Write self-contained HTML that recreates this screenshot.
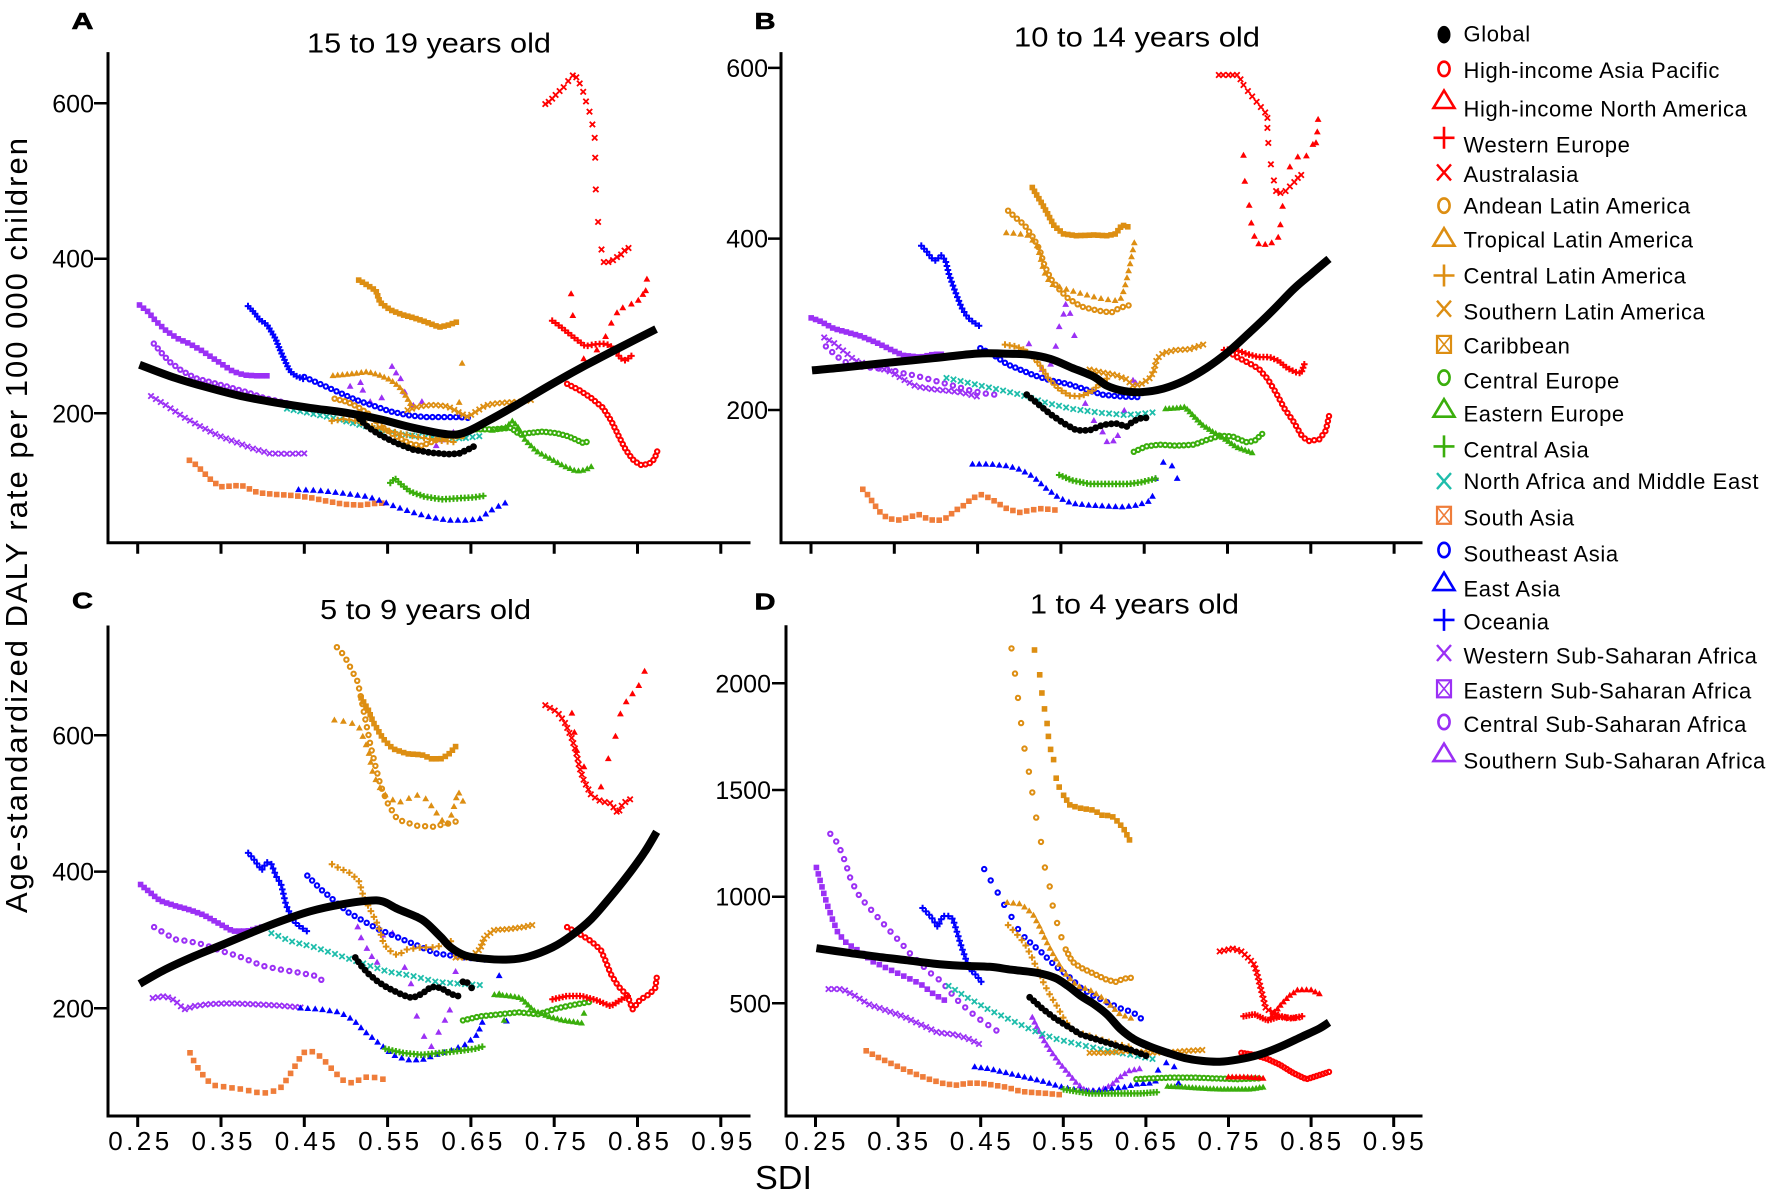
<!DOCTYPE html>
<html><head><meta charset="utf-8"><style>
html,body{margin:0;padding:0;background:#fff;}
svg{display:block;}
text{font-family:"Liberation Sans",Arial,sans-serif;fill:#000;}
</style></head><body>
<svg id="c" width="1772" height="1196" viewBox="0 0 1772 1196" xmlns="http://www.w3.org/2000/svg">
<rect width="1772" height="1196" fill="#fff"/>
<g stroke="#000" stroke-width="3" fill="none" stroke-linecap="square">
<path d="M108 53.6V542.7H749"/>
<path d="M781 53.6V542.7H1421"/>
<path d="M108 627V1116H749"/>
<path d="M786 626.7V1116H1421"/>
</g>
<g stroke="#000" stroke-width="3" fill="none">
<path d="M137.7 542.7v11M221 542.7v11M304.3 542.7v11M387.6 542.7v11M470.9 542.7v11M554.2 542.7v11M637.5 542.7v11M720.8 542.7v11"/>
<path d="M811 542.7v11M894.3 542.7v11M977.6 542.7v11M1060.9 542.7v11M1144.2 542.7v11M1227.5 542.7v11M1310.8 542.7v11M1394.1 542.7v11"/>
<path d="M137.7 1116v11M221 1116v11M304.3 1116v11M387.6 1116v11M470.9 1116v11M554.2 1116v11M637.5 1116v11M720.8 1116v11"/>
<path d="M815.5 1116v11M898.1 1116v11M980.7 1116v11M1063.3 1116v11M1145.9 1116v11M1228.5 1116v11M1311.1 1116v11M1393.7 1116v11"/>
</g>
<g stroke="#000" stroke-width="2.5" fill="none">
<path d="M94 103.3H108M94 258.7H108M94 413.3H108"/>
<path d="M768 67.9H781M768 238.6H781M768 410H781"/>
<path d="M94 735.3H108M94 871.6H108M94 1008.3H108"/>
<path d="M772 683.3H786M772 790H786M772 896.7H786M772 1003.3H786"/>
</g>
<g font-size="25" text-anchor="end">
<text x="94" y="112.3">600</text><text x="94" y="267.7">400</text><text x="94" y="422.3">200</text>
<text x="768" y="76.9">600</text><text x="768" y="247.6">400</text><text x="768" y="419">200</text>
<text x="94" y="744.3">600</text><text x="94" y="880.6">400</text><text x="94" y="1017.3">200</text>
<text x="771" y="692.3">2000</text><text x="771" y="799">1500</text><text x="771" y="905.7">1000</text><text x="771" y="1012.3">500</text>
</g>
<g font-size="26" text-anchor="middle">
<text x="138.7" y="1150" textLength="61" lengthAdjust="spacing">0.25</text>
<text x="222" y="1150" textLength="61" lengthAdjust="spacing">0.35</text>
<text x="305.3" y="1150" textLength="61" lengthAdjust="spacing">0.45</text>
<text x="388.6" y="1150" textLength="61" lengthAdjust="spacing">0.55</text>
<text x="471.9" y="1150" textLength="61" lengthAdjust="spacing">0.65</text>
<text x="555.2" y="1150" textLength="61" lengthAdjust="spacing">0.75</text>
<text x="638.5" y="1150" textLength="61" lengthAdjust="spacing">0.85</text>
<text x="721.8" y="1150" textLength="61" lengthAdjust="spacing">0.95</text>
<text x="815" y="1150" textLength="61" lengthAdjust="spacing">0.25</text>
<text x="897.6" y="1150" textLength="61" lengthAdjust="spacing">0.35</text>
<text x="980.2" y="1150" textLength="61" lengthAdjust="spacing">0.45</text>
<text x="1062.8" y="1150" textLength="61" lengthAdjust="spacing">0.55</text>
<text x="1145.4" y="1150" textLength="61" lengthAdjust="spacing">0.65</text>
<text x="1228" y="1150" textLength="61" lengthAdjust="spacing">0.75</text>
<text x="1310.6" y="1150" textLength="61" lengthAdjust="spacing">0.85</text>
<text x="1393.2" y="1150" textLength="61" lengthAdjust="spacing">0.95</text>
</g>
<text x="755" y="1189" font-size="33" textLength="57" lengthAdjust="spacingAndGlyphs">SDI</text>
<text transform="translate(27,525.5) rotate(-90)" text-anchor="middle" font-size="31" textLength="775" lengthAdjust="spacing">Age-standardized DALY rate per 100 000 children</text>
<g font-size="28">
<text x="307" y="52.4" textLength="244" lengthAdjust="spacingAndGlyphs">15 to 19 years old</text>
<text x="1014" y="46.4" textLength="246" lengthAdjust="spacingAndGlyphs">10 to 14 years old</text>
<text x="320" y="618.8" textLength="211" lengthAdjust="spacingAndGlyphs">5 to 9 years old</text>
<text x="1030" y="613.5" textLength="209" lengthAdjust="spacingAndGlyphs">1 to 4 years old</text>
</g>
<g font-size="23" font-weight="bold" stroke="#000" stroke-width="0.6">
<text x="71.5" y="29" textLength="22" lengthAdjust="spacingAndGlyphs">A</text>
<text x="754.5" y="29" textLength="21" lengthAdjust="spacingAndGlyphs">B</text>
<text x="72" y="608.3" textLength="21" lengthAdjust="spacingAndGlyphs">C</text>
<text x="754.5" y="609.5" textLength="21" lengthAdjust="spacingAndGlyphs">D</text>
</g>
<g id="data"></g>
<g id="leg"></g>
</svg>
<script>
(function(){
const T={A:[0,0,1.7422,2.6133],B:[760,0,2.3059,2.8],C:[0,560,2.0632,2.4654],D:[760,560,2.3059,2.4654]};
const COL={r:'#ff0000',o:'#dd8e12',g:'#3aae0c',t:'#1ebdab',s:'#ef7d3a',b:'#0000ff',p:'#9b30f5',k:'#000000'};
function tr(P,pts){const t=T[P];return pts.map(q=>[t[0]+q[0]/t[2],t[1]+q[1]/t[3]]);}
function samp(pts,n){if(n<=0)return pts;const L=[0];for(let i=1;i<pts.length;i++){L.push(L[i-1]+Math.hypot(pts[i][0]-pts[i-1][0],pts[i][1]-pts[i-1][1]));}
const tot=L[L.length-1];const out=[];let j=0;for(let k=0;k<n;k++){const s=tot*k/(n-1);while(j<pts.length-2&&L[j+1]<s)j++;const seg=L[j+1]-L[j];const f=seg?(s-L[j])/seg:0;out.push([pts[j][0]+f*(pts[j+1][0]-pts[j][0]),pts[j][1]+f*(pts[j+1][1]-pts[j][1])]);}return out;}
function mk(type,c,x,y){
 const X=x.toFixed(1),Y=y.toFixed(1);
 switch(type){
 case 'o':return `<circle cx="${X}" cy="${Y}" r="2.2" fill="none" stroke="${c}" stroke-width="2"/>`;
 case 't':return `<path d="M${X},${(y-3.7).toFixed(1)}l3.4,6h-6.8z" fill="${c}"/>`;
 case 'p':return `<path d="M${(x-3.3).toFixed(1)},${Y}h6.6M${X},${(y-3.3).toFixed(1)}v6.6" stroke="${c}" stroke-width="2" fill="none"/>`;
 case 'x':return `<path d="M${(x-2.7).toFixed(1)},${(y-2.7).toFixed(1)}l5.4,5.4m0,-5.4l-5.4,5.4" stroke="${c}" stroke-width="1.8" fill="none"/>`;
 case 's':return `<rect x="${(x-2.8).toFixed(1)}" y="${(y-2.8).toFixed(1)}" width="5.6" height="5.6" fill="${c}"/>`;
 case 'g':return `<circle cx="${X}" cy="${Y}" r="3.4" fill="#000"/>`;
 }return '';}
function smooth(p){let d=`M${p[0][0].toFixed(1)},${p[0][1].toFixed(1)}`;for(let i=0;i<p.length-1;i++){const p0=p[i-1]||p[i],p1=p[i],p2=p[i+1],p3=p[i+2]||p2;const c1=[p1[0]+(p2[0]-p0[0])/6,p1[1]+(p2[1]-p0[1])/6],c2=[p2[0]-(p3[0]-p1[0])/6,p2[1]-(p3[1]-p1[1])/6];d+=`C${c1[0].toFixed(1)},${c1[1].toFixed(1)} ${c2[0].toFixed(1)},${c2[1].toFixed(1)} ${p2[0].toFixed(1)},${p2[1].toFixed(1)}`;}return d;}

const S=[
['A','s','p',[[243,797],[258,815],[272,840],[290,865],[310,885],[330,898],[350,915],[370,935],[390,955],[405,970],[425,980],[445,982],[465,982]],30],
['A','o','p',[[268,898],[280,920],[295,945],[315,967],[340,988],[370,1000],[400,1012],[430,1025],[460,1040],[490,1050],[510,1058]],26],
['A','x','p',[[263,1035],[290,1060],[320,1090],[350,1115],[380,1138],[410,1155],[440,1172],[470,1185],[500,1186],[530,1185]],30],
['A','t','p',[[610,1010],[628,1000],[632,1020],[645,1050],[665,1040],[683,958],[690,975],[698,990],[705,1025],[720,1060],[735,1050],[760,1165],[770,1150],[790,1130],[800,1090]],0],
['A','s','s',[[330,1203],[342,1215],[355,1235],[370,1258],[385,1272],[405,1270],[420,1268],[435,1278],[450,1288],[480,1292],[510,1295],[540,1300],[570,1310],[600,1318],[630,1320],[650,1316],[665,1315]],30],
['A','p','b',[[432,800],[442,815],[452,835],[465,848],[472,865],[480,885],[488,915],[497,945],[505,970],[515,982],[528,990]],28],
['A','o','b',[[530,985],[560,1005],[590,1025],[620,1045],[650,1060],[680,1075],[710,1085],[740,1090],[770,1090],[800,1090],[815,1092]],30],
['A','t','b',[[520,1280],[560,1283],[600,1290],[640,1298],[665,1310],[690,1325],[720,1340],[750,1352],[780,1360],[810,1360],[835,1357],[845,1345],[860,1330],[880,1315]],30],
['A','x','t',[[500,1068],[540,1080],[580,1092],[620,1108],[660,1122],[700,1135],[740,1142],[780,1146],[810,1145],[835,1140]],30],
['A','s','o',[[625,732],[640,745],[655,760],[662,790],[680,810],[700,822],[720,830],[745,843],[765,855],[780,850],[795,842]],28],
['A','t','o',[[580,982],[610,978],[640,972],[660,980],[680,993],[695,1010],[705,1030],[715,1055]],20],
['A','t','o',[[805,950],[800,1052]],0],
['A','o','o',[[583,1042],[605,1050],[625,1065],[645,1085],[665,1115],[690,1140],[715,1160],[735,1165],[760,1150],[785,1140],[805,1140]],28],
['A','p','o',[[578,1100],[600,1095],[620,1100],[640,1110],[660,1120],[690,1130],[720,1140],[760,1150],[790,1155]],22],
['A','x','o',[[710,1072],[730,1062],[755,1058],[780,1062],[800,1078],[815,1090],[830,1075],[845,1060],[860,1055],[880,1052],[905,1050],[925,1045]],28],
['A','p','g',[[680,1262],[688,1250],[698,1265],[715,1285],[740,1298],[770,1305],[800,1302],[825,1300],[842,1296]],28],
['A','o','g',[[830,1122],[860,1122],[890,1118],[905,1135],[920,1132],[945,1128],[970,1132],[990,1140],[1005,1150],[1015,1157],[1022,1155]],28],
['A','t','g',[[858,1125],[880,1118],[893,1100],[903,1118],[915,1150],[935,1180],[960,1200],[985,1220],[1005,1232],[1020,1228],[1030,1220]],28],
['A','o','r',[[988,1003],[1010,1020],[1030,1040],[1050,1065],[1065,1100],[1078,1140],[1090,1175],[1102,1200],[1115,1215],[1130,1213],[1140,1200],[1145,1180]],30],
['A','p','r',[[962,838],[975,852],[990,870],[1005,888],[1020,905],[1035,900],[1050,898],[1062,902],[1072,915],[1080,935],[1090,942],[1100,930]],25],
['A','t','r',[[995,768],[998,825],[1017,938],[1040,915],[1055,880],[1065,845],[1075,818],[1085,805],[1100,795],[1112,785],[1120,770],[1125,760],[1127,730]],0],
['A','x','r',[[950,272],[956,266],[962,258],[968,248],[975,238],[982,228],[990,212],[998,197],[1004,202],[1010,218],[1016,240],[1021,265],[1027,292],[1032,325],[1036,360],[1037,412],[1038,495],[1042,580],[1048,652],[1052,685],[1060,685],[1068,680],[1075,672],[1082,665],[1088,655],[1095,648]],0],
['A','g','k',[[620,1085],[640,1115],[660,1135],[690,1158],[720,1175],[750,1183],[780,1187],[800,1185],[815,1175],[825,1167]],26],
['B','s','p',[[118,890],[140,900],[170,920],[200,930],[230,940],[270,960],[300,978],[330,995],[370,1000],[400,992],[418,992]],30],
['B','x','p',[[148,945],[170,960],[195,985],[220,1010],[260,1025],[300,1040],[330,1062],[360,1082],[400,1090],[440,1095],[470,1100],[500,1110]],30],
['B','o','p',[[152,970],[170,990],[190,1010],[220,1025],[260,1030],[300,1035],[330,1045],[360,1052],[400,1065],[440,1078],[480,1092],[520,1102],[540,1105]],22],
['B','t','p',[[620,963],[650,1035],[670,1020],[682,970],[690,915],[700,880],[705,853],[715,878],[725,940],[750,1130],[770,1178],[790,1210],[800,1237],[815,1235],[825,1220],[840,1150],[860,1065],[866,1072]],0],
['B','s','s',[[237,1370],[250,1388],[262,1410],[275,1432],[295,1452],[320,1456],[345,1448],[365,1440],[390,1455],[410,1458],[430,1450],[450,1430],[470,1415],[490,1395],[510,1385],[530,1395],[550,1410],[570,1425],[600,1435],[625,1428],[650,1424],[680,1428]],32],
['B','p','b',[[372,688],[385,705],[395,722],[405,730],[418,715],[428,730],[435,765],[445,800],[455,832],[465,862],[478,888],[492,902],[505,912]],28],
['B','o','b',[[508,975],[540,995],[570,1020],[600,1035],[630,1050],[670,1065],[710,1075],[750,1090],[790,1105],[830,1110],[870,1112]],30],
['B','t','b',[[490,1300],[530,1300],[570,1305],[600,1315],[630,1335],[660,1368],[690,1395],[720,1410],[760,1415],[800,1418],[840,1420],[870,1415],[895,1405],[905,1390]],30],
['B','t','b',[[912,1340],[930,1295],[950,1305],[962,1340]],0],
['B','x','t',[[430,1058],[480,1072],[540,1088],[600,1105],[660,1128],[720,1145],[780,1155],[840,1162],[870,1160],[905,1155]],30],
['B','s','o',[[628,525],[640,550],[655,580],[668,610],[678,632],[700,655],[730,660],[770,658],[800,660],[820,655],[835,630],[848,635]],30],
['B','o','o',[[572,590],[590,610],[610,630],[630,665],[645,700],[655,740],[670,780],[690,810],[710,835],[740,858],[780,870],[810,875],[830,862],[850,855]],30],
['B','t','o',[[568,652],[595,655],[620,660],[640,690],[655,760],[670,795],[700,808],[740,822],[780,835],[815,842],[830,842],[840,810],[848,770],[855,730],[863,680]],30],
['B','p','o',[[565,965],[590,970],[610,980],[630,1000],[650,1030],[665,1060],[690,1090],[715,1108],[740,1110],[765,1095],[785,1075],[800,1060]],28],
['B','x','o',[[760,1035],[790,1043],[820,1050],[845,1062],[860,1080],[880,1075],[898,1060],[908,1040],[915,1005],[930,988],[960,980],[990,978],[1022,965]],30],
['B','t','g',[[935,1145],[960,1143],[980,1140],[1000,1165],[1020,1190],[1045,1210],[1070,1228],[1100,1253],[1135,1268]],28],
['B','o','g',[[862,1265],[890,1250],[920,1245],[960,1248],[1000,1245],[1030,1232],[1060,1220],[1090,1222],[1120,1238],[1140,1235],[1158,1215]],30],
['B','p','g',[[690,1330],[720,1345],[760,1355],[800,1355],[850,1355],[880,1350],[912,1340]],28],
['B','o','r',[[1080,985],[1100,1000],[1125,1015],[1150,1032],[1170,1060],[1190,1100],[1210,1145],[1230,1180],[1250,1222],[1265,1235],[1290,1230],[1305,1205],[1312,1165]],32],
['B','t','r',[[1115,435],[1118,508],[1128,575],[1133,625],[1140,662],[1150,683],[1165,685],[1180,680],[1195,665],[1200,630],[1205,578],[1222,468],[1240,440],[1260,437],[1275,405],[1282,400],[1285,370],[1287,335]],0],
['B','x','r',[[1058,210],[1068,210],[1080,210],[1090,210],[1100,210],[1108,222],[1115,238],[1125,255],[1135,270],[1145,285],[1155,300],[1165,315],[1170,330],[1170,358],[1172,400],[1178,460],[1185,505],[1190,535],[1200,540],[1212,535],[1222,522],[1232,510],[1240,498],[1248,490]],0],
['B','p','r',[[1070,980],[1090,978],[1110,985],[1125,992],[1150,1000],[1175,1000],[1195,1010],[1215,1030],[1235,1042],[1248,1045],[1255,1020]],26],
['B','g','k',[[615,1105],[640,1130],[670,1160],[700,1185],[730,1205],[760,1205],[790,1190],[820,1185],[845,1195],[860,1180],[880,1170],[890,1170]],26],
['C','s','p',[[290,800],[310,820],[330,840],[360,852],[390,862],[420,875],[450,895],[480,915],[510,915],[540,905]],30],
['C','o','p',[[318,905],[340,920],[360,935],[390,940],[420,948],[460,965],[500,980],[540,1000],[580,1010],[620,1018],[650,1025],[663,1035]],22],
['C','x','p',[[315,1080],[340,1075],[360,1085],[380,1108],[400,1100],[430,1095],[470,1093],[520,1095],[570,1098],[620,1103]],30],
['C','t','p',[[738,905],[745,932],[757,958],[767,978],[778,992],[790,925],[810,920],[835,1005],[848,1045],[860,1125],[875,1175],[890,1200],[905,1165],[918,1135],[928,1110],[940,1015]],0],
['C','s','s',[[392,1215],[400,1235],[410,1255],[425,1280],[440,1295],[470,1300],[500,1305],[520,1310],[540,1315],[560,1312],[580,1300],[595,1275],[610,1245],[625,1215],[640,1210],[655,1218],[670,1235],[690,1262],[710,1285],[730,1290],[750,1275],[770,1275],[790,1280]],30],
['C','p','b',[[512,722],[525,740],[540,765],[550,745],[560,750],[570,780],[580,800],[590,850],[605,890],[620,905],[633,915]],26],
['C','o','b',[[634,778],[660,810],[690,840],[720,870],[750,890],[780,910],[810,925],[840,940],[870,955],[900,970],[930,975],[960,980],[1000,985]],30],
['C','t','b',[[620,1105],[660,1108],[700,1115],[730,1135],[750,1160],[770,1180],[790,1200],[810,1220],[840,1233],[870,1233],[900,1220],[930,1210],[960,1195],[985,1170],[995,1140]],30],
['C','t','b',[[1030,1025],[1045,1137]],0],
['C','x','t',[[560,920],[600,940],[650,955],[700,975],[750,995],[800,1015],[850,1025],[900,1040],[950,1045],[990,1048]],30],
['C','o','o',[[695,215],[710,235],[725,270],[738,300],[745,340],[755,400],[765,460],[775,510],[785,555],[800,600],[820,640],[860,655],[900,658],[915,650],[930,650],[940,645]],32],
['C','s','o',[[745,340],[760,370],[770,400],[790,440],[810,465],[840,478],[870,480],[890,490],[910,490],[925,480],[940,460]],28],
['C','t','o',[[690,395],[720,400],[740,410],[750,440],[760,470],[770,530],[790,575],[820,600],[860,580],[880,590],[895,615],[920,655],[933,625],[945,570],[955,595]],26],
['C','p','o',[[685,750],[700,760],[720,770],[740,790],[750,830],[765,865],[780,900],[790,940],[800,960],[820,975],[840,960],[870,955],[900,955],[930,940]],28],
['C','x','o',[[940,980],[970,980],[990,960],[1000,930],[1020,912],[1050,910],[1080,905],[1098,900]],22],
['C','t','g',[[1020,1072],[1050,1075],[1075,1080],[1100,1110],[1130,1125],[1160,1135],[1200,1142]],24],
['C','t','g',[[1205,1118],[1040,1135],[1030,1070]],0],
['C','o','g',[[955,1135],[990,1125],[1030,1120],[1070,1115],[1110,1120],[1150,1105],[1190,1095],[1215,1090]],28],
['C','p','g',[[795,1205],[830,1215],[870,1220],[910,1215],[950,1210],[980,1205],[995,1200]],28],
['C','o','r',[[1170,905],[1200,925],[1220,940],[1240,962],[1250,990],[1260,1020],[1275,1050],[1295,1075],[1305,1108],[1320,1085],[1340,1070],[1352,1055],[1355,1030]],30],
['C','p','r',[[1140,1083],[1170,1075],[1200,1075],[1230,1085],[1260,1100],[1280,1085],[1295,1075]],24],
['C','t','r',[[1180,378],[1185,425],[1190,470],[1205,510],[1240,560],[1255,490],[1270,435],[1280,380],[1292,350],[1305,330],[1318,310],[1330,275]],0],
['C','x','r',[[1125,358],[1150,375],[1165,400],[1180,440],[1190,480],[1195,510],[1205,545],[1220,580],[1240,595],[1260,600],[1275,625],[1285,600],[1300,590]],30],
['C','g','k',[[733,980],[745,1000],[760,1020],[780,1040],[800,1055],[830,1072],[850,1080],[870,1070],[890,1052],[910,1055],[930,1070],[945,1075]],24],
['C','g','k',[[955,1040],[964,1042],[973,1055]],0],
['D','s','p',[[130,758],[140,795],[148,825],[155,850],[165,880],[180,920],[200,945],[230,965],[260,990],[300,1010],[340,1030],[370,1045],[400,1070],[425,1085]],30],
['D','o','p',[[162,675],[180,700],[195,740],[210,790],[230,830],[250,855],[275,885],[300,915],[330,950],[350,975],[375,1000],[395,1020],[420,1040],[450,1080],[480,1110],[510,1135],[545,1160]],28],
['D','x','p',[[158,1058],[190,1058],[220,1075],[250,1095],[290,1110],[330,1125],[370,1145],[410,1165],[450,1170],[480,1180],[505,1193]],30],
['D','t','p',[[628,1128],[640,1155],[655,1185],[670,1210],[690,1240],[710,1265],[730,1290],[750,1308],[780,1310],[810,1295],[830,1275],[850,1260],[875,1255]],30],
['D','s','s',[[245,1210],[270,1225],[300,1240],[330,1255],[360,1268],[390,1280],[420,1290],[450,1295],[480,1290],[510,1290],[540,1295],[570,1300],[600,1310],[630,1313],[660,1315],[690,1318]],30],
['D','p','b',[[375,858],[395,880],[410,905],[420,880],[430,875],[445,885],[455,920],[465,955],[475,985],[485,1010],[500,1025],[510,1040]],26],
['D','o','b',[[517,762],[532,790],[548,820],[563,850],[580,880],[595,910]],0],
['D','o','b',[[610,930],[625,945],[650,968],[680,1000],[710,1025],[740,1055],[770,1075],[800,1090],[830,1105],[860,1115],[878,1130]],20],
['D','t','b',[[495,1250],[530,1255],[570,1265],[610,1275],[650,1285],[690,1298],[720,1305],[760,1310],[800,1305],[840,1300],[870,1292],[900,1290],[912,1285]],30],
['D','t','b',[[918,1258],[937,1240],[955,1250],[965,1290]],0],
['D','x','t',[[435,1050],[480,1080],[530,1110],[580,1135],[630,1160],[680,1180],[730,1193],[780,1205],[830,1215],[880,1225],[905,1230]],30],
['D','o','o',[[580,218],[588,280],[595,340],[602,402],[610,465],[620,522],[628,573],[637,635],[648,695],[657,758],[668,805],[675,852],[685,895],[695,930]],0],
['D','o','o',[[705,960],[720,990],[740,1005],[760,1015],[780,1025],[800,1035],[820,1040],[840,1032],[855,1030]],16],
['D','s','o',[[633,222],[645,283],[650,328],[656,367],[662,403],[665,435],[670,467],[677,492],[683,538],[690,560]],0],
['D','s','o',[[700,580],[715,605],[740,612],[770,617],[790,630],[810,630],[825,645],[840,665],[852,690]],16],
['D','t','o',[[570,845],[600,848],[615,860],[630,875],[645,905],[660,940],[680,980],[700,1015],[730,1050],[760,1060],[790,1080],[810,1100],[830,1120],[855,1130]],30],
['D','p','o',[[572,900],[590,920],[610,945],[625,975],[640,1010],[655,1045],[670,1075],[685,1100],[700,1130],[720,1160],[750,1170],[780,1180],[810,1190],[850,1200]],28],
['D','x','o',[[760,1215],[800,1215],[850,1210],[900,1215],[950,1213],[990,1210],[1020,1208]],26],
['D','o','g',[[868,1280],[900,1278],[950,1276],[1000,1276],[1050,1278],[1100,1280],[1150,1278]],30],
['D','t','g',[[940,1298],[980,1300],[1020,1303],[1060,1305],[1100,1305],[1130,1305],[1160,1300]],28],
['D','p','g',[[700,1305],[730,1310],[760,1315],[800,1315],[850,1315],[880,1315],[915,1312]],30],
['D','o','r',[[1110,1215],[1140,1220],[1170,1230],[1200,1245],[1230,1265],[1260,1280],[1290,1270],[1312,1262]],30],
['D','p','r',[[1115,1125],[1140,1120],[1170,1135],[1200,1125],[1225,1130],[1250,1125]],22],
['D','t','r',[[1080,1275],[1120,1275],[1160,1278]],10],
['D','t','r',[[1180,1125],[1200,1098],[1220,1075],[1240,1060],[1270,1060],[1290,1070]],14],
['D','x','r',[[1060,965],[1090,958],[1110,965],[1125,980],[1138,995],[1145,1015],[1152,1045],[1160,1078],[1167,1108],[1180,1112],[1195,1125],[1220,1130],[1240,1128]],28],
['D','g','k',[[622,1078],[650,1105],[680,1130],[710,1150],[740,1170],[770,1180],[800,1190],[830,1200],[860,1210],[890,1222]],26]
];
const GL=[
['A',[[243,953],[300,985],[360,1012],[420,1035],[480,1052],[540,1066],[600,1078],[660,1095],[720,1118],[780,1135],[810,1130],[850,1100],[900,1058],[960,1005],[1020,955],[1080,908],[1143,860]]],
['B',[[120,1037],[200,1028],[300,1015],[400,1003],[500,990],[560,990],[620,993],[670,1005],[720,1030],[770,1055],[800,1080],[840,1095],[880,1098],[930,1088],[980,1065],[1030,1030],[1080,985],[1130,930],[1180,872],[1230,810],[1270,768],[1312,725]]],
['C',[[288,1045],[340,1010],[400,977],[460,948],[520,918],[580,890],[640,866],[700,850],[760,840],[790,842],[820,860],[860,880],[880,895],[910,930],[930,955],[960,975],[1000,983],[1050,985],[1090,978],[1140,955],[1180,925],[1220,885],[1260,830],[1300,770],[1330,720],[1355,670]]],
['D',[[130,957],[200,968],[270,978],[340,987],[400,995],[460,1000],[530,1003],[580,1010],[640,1018],[680,1030],[710,1050],[740,1075],[770,1095],[800,1120],[830,1155],[860,1180],[900,1200],[940,1215],[980,1228],[1020,1235],[1060,1237],[1100,1232],[1150,1220],[1200,1200],[1250,1175],[1290,1155],[1312,1140]]]
];
let h='';
for(const s of S){const pts=samp(tr(s[0],s[3]),s[4]);const c=COL[s[2]];for(const q of pts)h+=mk(s[1],c,q[0],q[1]);}
for(const g of GL){h+=`<path d="${smooth(tr(g[0],g[1]))}" fill="none" stroke="#000" stroke-width="8" stroke-linejoin="round"/>`;}
document.getElementById('data').innerHTML=h;

const LG=[
['Global','g','k',34.7,33.9],
['High-income Asia Pacific','o','r',68.9,70.1],
['High-income North America','t','r',99.5,108.5],
['Western Europe','p','r',137.8,144.7],
['Australasia','x','r',172.4,174.0],
['Andean Latin America','o','o',205.6,205.7],
['Tropical Latin America','t','o',237.2,239.6],
['Central Latin America','p','o',275.5,275.7],
['Southern Latin America','x','o',308.7,311.9],
['Caribbean','s','o',344.4,345.8],
['Central Europe','o','g',377.6,380.8],
['Eastern Europe','t','g',408.2,413.6],
['Central Asia','p','g',446.4,449.8],
['North Africa and Middle East','x','t',481.1,481.4],
['South Asia','s','s',515.3,517.6],
['Southeast Asia','o','b',550,553.7],
['East Asia','t','b',581.6,588.8],
['Oceania','p','b',619.9,621.6],
['Western Sub-Saharan Africa','x','p',653,655.5],
['Eastern Sub-Saharan Africa','s','p',688.8,690.5],
['Central Sub-Saharan Africa','o','p',722,724.4],
['Southern Sub-Saharan Africa','t','p',752.6,760.5]
];
let l='';const X=1444;
for(const e of LG){const c=COL[e[2]],y=e[3];
 switch(e[1]){
 case 'g':l+=`<ellipse cx="${X}" cy="${y}" rx="6.5" ry="8.8" fill="#000"/>`;break;
 case 'o':l+=`<ellipse cx="${X}" cy="${y}" rx="5.6" ry="7.2" fill="none" stroke="${c}" stroke-width="2.6"/>`;break;
 case 't':l+=`<path d="M${X},${y-9}L${X+10.5},${y+8.5}H${X-10.5}Z" fill="none" stroke="${c}" stroke-width="2.6" stroke-linejoin="miter"/>`;break;
 case 'p':l+=`<path d="M${X-10.5},${y}H${X+10.5}M${X},${y-11}V${y+11}" stroke="${c}" stroke-width="2.6"/>`;break;
 case 'x':l+=`<path d="M${X-7},${y-8}L${X+7},${y+8}M${X+7},${y-8}L${X-7},${y+8}" stroke="${c}" stroke-width="2.4"/>`;break;
 case 's':l+=`<rect x="${X-7}" y="${y-8.5}" width="14" height="17" fill="none" stroke="${c}" stroke-width="2.2"/><path d="M${X-7},${y-8.5}L${X+7},${y+8.5}M${X+7},${y-8.5}L${X-7},${y+8.5}" stroke="${c}" stroke-width="1.6"/>`;break;
 }
 l+=`<text x="1463.5" y="${(e[4]+7.8).toFixed(1)}" font-size="22" letter-spacing="0.6">${e[0]}</text>`;
}
document.getElementById('leg').innerHTML=l;
})();
</script>
</body></html>
